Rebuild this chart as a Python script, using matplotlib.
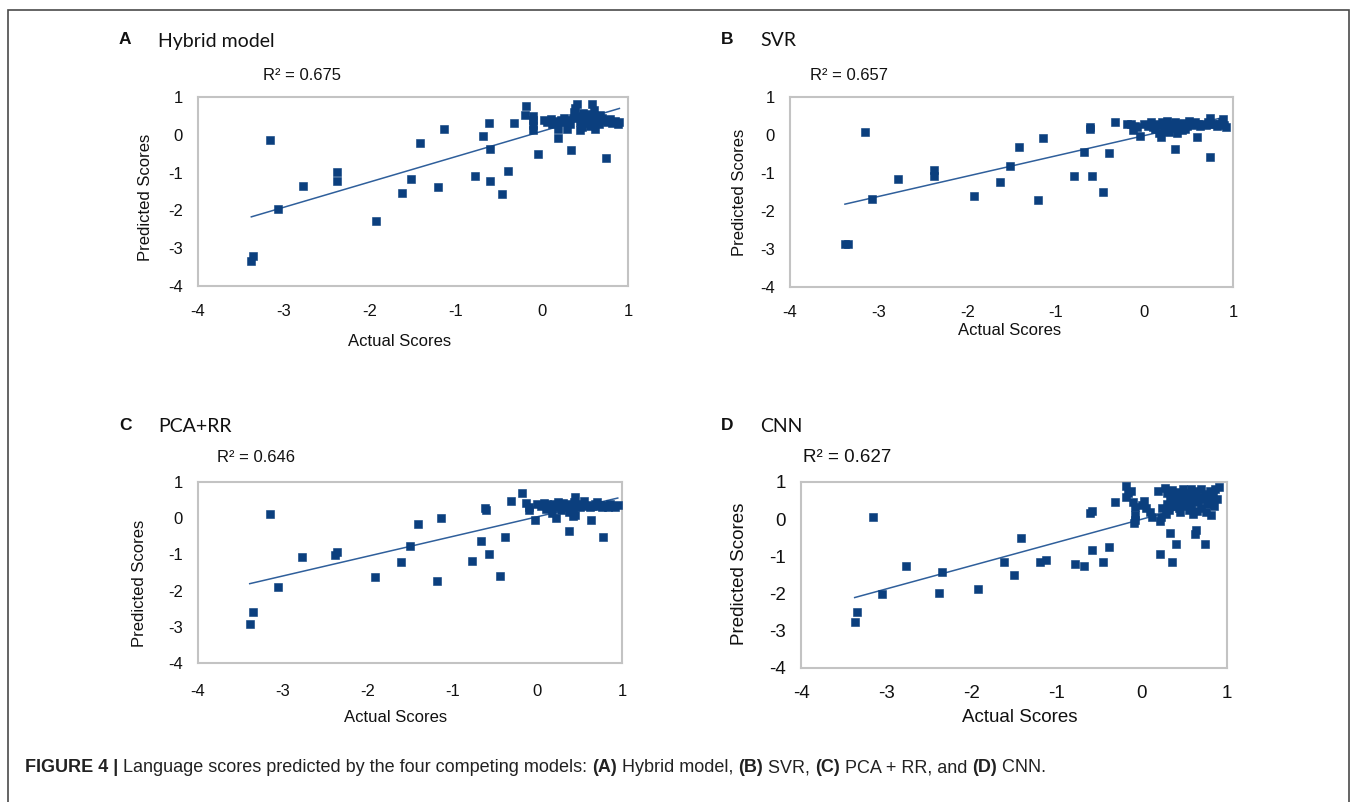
import matplotlib
matplotlib.use('Agg')
import matplotlib.pyplot as plt
from matplotlib.patches import Rectangle
import numpy as np

plt.rcParams['axes.unicode_minus'] = False
plt.rcParams['font.family'] = ['Liberation Sans', 'DejaVu Sans']

# ---------------- data ----------------
ticks = [-4, -3, -2, -1, 0, 1]
tick_labels = ['-4', '-3', '-2', '-1', '0', '1']

panel_letters = ['A', 'B', 'C', 'D']
panel_names = ['Hybrid model', 'SVR', 'PCA+RR', 'CNN']
r2_texts = ['R² = 0.675', 'R² = 0.657', 'R² = 0.646', 'R² = 0.627']
xlabel = 'Actual Scores'
ylabel = 'Predicted Scores'

# trend lines (slope, intercept)
trend_slope = [0.67, 0.534, 0.545, 0.625]
trend_icpt = [0.094, -0.015, 0.039, 0.0]

xa = [-3.38, -3.36, -3.16, -3.07, -2.78, -2.38, -2.38, -1.93, -1.63, -1.52, -1.42, -1.21,
      -1.14, -0.78, -0.69, -0.62, -0.61, -0.60, -0.47, -0.40, -0.33, -0.19, -0.20, -0.10,
      -0.10, -0.10, -0.10, -0.05, 0.19, 0.19, 0.34, 0.74,
      0.02, 0.06, 0.10, 0.14, 0.18, 0.22, 0.26, 0.30, 0.33, 0.36, 0.37, 0.38, 0.41, 0.40,
      0.44, 0.44, 0.29, 0.47, 0.50, 0.52, 0.54, 0.56, 0.58, 0.60, 0.62, 0.62, 0.64, 0.67,
      0.70, 0.73, 0.76, 0.79, 0.81, 0.85, 0.88, 0.90, 0.48, 0.55, 0.25, 0.12, 0.46, 0.66,
      0.58]
ya = [-3.33, -3.20, -0.13, -1.95, -1.35, -0.98, -1.23, -2.29, -1.55, -1.17, -0.21, -1.38,
      0.15, -1.08, -0.03, 0.30, -0.37, -1.22, -1.57, -0.96, 0.30, 0.76, 0.53, 0.50,
      0.38, 0.26, 0.14, -0.50, -0.09, 0.15, -0.39, -0.61,
      0.40, 0.35, 0.42, 0.36, 0.30, 0.38, 0.33, 0.40, 0.28, 0.45, 0.60, 0.72, 0.82, 0.50,
      0.35, 0.13, 0.16, 0.42, 0.30, 0.47, 0.38, 0.22, 0.82, 0.65, 0.50, 0.16, 0.40, 0.53,
      0.45, 0.38, 0.34, 0.42, 0.30, 0.36, 0.29, 0.35, 0.58, 0.55, 0.45, 0.28, 0.20, 0.28,
      0.30]

xb = [-3.38, -3.35, -3.15, -3.07, -2.78, -2.38, -2.38, -1.92, -1.63, -1.52, -1.42, -1.20,
      -1.14, -0.79, -0.68, -0.61, -0.61, -0.59, -0.47, -0.40, -0.33, -0.20, -0.15, -0.11,
      -0.08, -0.13, -0.05, 0.19, 0.35, 0.59, 0.74,
      0.00, 0.04, 0.08, 0.10, 0.12, 0.15, 0.18, 0.20, 0.22, 0.24, 0.27, 0.30, 0.32, 0.35,
      0.37, 0.38, 0.41, 0.44, 0.46, 0.48, 0.51, 0.54, 0.57, 0.60, 0.63, 0.66, 0.69, 0.72,
      0.74, 0.76, 0.79, 0.82, 0.85, 0.88, 0.90, 0.92, 0.89, 0.28, 0.42, 0.16, 0.50, 0.25]
yb = [-2.88, -2.88, 0.09, -1.68, -1.16, -0.92, -1.07, -1.61, -1.23, -0.82, -0.32, -1.71,
      -0.07, -1.08, -0.44, 0.22, 0.17, -1.07, -1.51, -0.48, 0.35, 0.30, 0.28, 0.25,
      0.20, 0.13, -0.03, -0.04, -0.36, -0.04, -0.59,
      0.30, 0.25, 0.33, 0.22, 0.15, 0.30, 0.26, 0.35, 0.10, 0.22, 0.30, 0.18, 0.27, 0.33,
      0.06, 0.22, 0.28, 0.32, 0.15, 0.24, 0.30, 0.27, 0.33, 0.28, 0.25, 0.30, 0.27, 0.33,
      0.45, 0.28, 0.30, 0.25, 0.30, 0.33, 0.27, 0.22, 0.42, 0.08, 0.12, 0.05, 0.37, 0.37]

xc = [-3.39, -3.35, -3.15, -3.06, -2.77, -2.36, -2.38, -1.91, -1.61, -1.50, -1.40, -1.18,
      -1.13, -0.77, -0.66, -0.62, -0.60, -0.57, -0.44, -0.38, -0.31, -0.18, -0.13, -0.10,
      -0.10, -0.03, 0.22, 0.38, 0.42, 0.63, 0.78,
      0.00, 0.04, 0.08, 0.10, 0.12, 0.16, 0.18, 0.20, 0.23, 0.26, 0.28, 0.30, 0.33, 0.36,
      0.38, 0.40, 0.43, 0.45, 0.45, 0.47, 0.50, 0.53, 0.56, 0.59, 0.62, 0.65, 0.68, 0.71,
      0.74, 0.77, 0.80, 0.83, 0.86, 0.89, 0.92, 0.95, 0.42, 0.25, 0.55, 0.70]
yc = [-2.91, -2.60, 0.11, -1.89, -1.07, -0.94, -1.03, -1.63, -1.22, -0.77, -0.16, -1.73,
      0.00, -1.19, -0.64, 0.27, 0.23, -0.98, -1.60, -0.53, 0.48, 0.70, 0.42, 0.32,
      0.22, -0.05, 0.00, -0.36, 0.07, -0.06, -0.52,
      0.40, 0.35, 0.42, 0.25, 0.38, 0.33, 0.15, 0.40, 0.30, 0.36, 0.22, 0.42, 0.30, 0.38,
      0.18, 0.33, 0.45, 0.59, 0.09, 0.36, 0.30, 0.40, 0.33, 0.37, 0.30, 0.35, 0.40, 0.33,
      0.37, 0.30, 0.36, 0.32, 0.38, 0.34, 0.30, 0.36, 0.25, 0.46, 0.47, 0.45]

xd = [-3.37, -3.34, -3.16, -3.05, -2.77, -2.38, -2.35, -1.92, -1.62, -1.50, -1.42, -1.19,
      -1.13, -0.78, -0.68, -0.61, -0.58, -0.58, -0.46, -0.38, -0.32, -0.18, -0.19, -0.13,
      -0.16, -0.10, -0.08, -0.08, -0.08, -0.09, 0.02, 0.19, 0.12, 0.21, 0.21, 0.33,
      0.35, 0.40, 0.62, 0.64, 0.74, 0.81, 0.91, 0.05, 0.10, 0.00, 0.24, 0.28, 0.22, 0.30,
      0.27, 0.30, 0.33, 0.36, 0.38, 0.40, 0.42, 0.44, 0.46, 0.48, 0.50, 0.52, 0.54, 0.56,
      0.58, 0.60, 0.62, 0.64, 0.66, 0.68, 0.70, 0.72, 0.74, 0.76, 0.78, 0.80, 0.82, 0.84,
      0.86, 0.88, 0.35, 0.45, 0.55, 0.65, 0.75, 0.42, 0.58, 0.70, 0.32, 0.50, 0.85, 0.60]
yd = [-2.76, -2.49, 0.05, -2.02, -1.25, -1.98, -1.41, -1.88, -1.16, -1.50, -0.51, -1.14,
      -1.10, -1.20, -1.25, 0.17, 0.22, -0.84, -1.15, -0.74, 0.46, 0.88, 0.59, 0.75,
      0.70, 0.45, 0.32, 0.11, -0.02, -0.10, 0.48, 0.77, 0.07, -0.04, -0.94, -0.38,
      -1.14, -0.67, -0.40, -0.30, -0.67, 0.10, 0.86, 0.30, 0.20, 0.38, 0.30, 0.15, 0.05, 0.40,
      0.85, 0.70, 0.55, 0.78, 0.62, 0.45, 0.72, 0.30, 0.58, 0.80, 0.65, 0.42, 0.55, 0.70,
      0.35, 0.62, 0.50, 0.75, 0.45, 0.60, 0.30, 0.55, 0.68, 0.40, 0.58, 0.75, 0.48, 0.62,
      0.80, 0.55, 0.35, 0.20, 0.25, 0.22, 0.20, 0.52, 0.82, 0.80, 0.25, 0.35, 0.35, 0.15]

series_x = [xa, xb, xc, xd]
series_y = [ya, yb, yc, yd]

# ---------------- layout (pixels) ----------------
W, H = 1357, 802
fig = plt.figure(figsize=(W / 100, H / 100), dpi=100)
fig.patch.set_facecolor('white')

def px(x, y):
    return x / W, 1 - y / H

fig.add_artist(Rectangle(px(8, 812), (1349 - 8) / W, (812 - 10) / H,
                         transform=fig.transFigure, fill=False,
                         edgecolor='#4a4a4a', linewidth=1.2))

boxes = [(198, 97, 628, 286), (790, 97, 1233, 287),
         (198, 482, 622, 663), (801, 482, 1227, 668)]
title_pos = [(125, 40), (727, 40), (125, 425), (727, 425)]
r2_pos = [(263, 75), (810, 75), (217, 458), (803, 458)]
ylab_pos = [(145, 197), (740, 192), (140, 583), (740, 574)]
xlab_pos = [(400, 342), (1010, 330), (396, 718), (1020, 718)]
font_sz = [12, 12, 12, 13.5]
xpad = [13, 13, 15, 12]

MARK = '#0B3F7E'
LINE = '#2F5F9B'

for i in range(4):
    x0, y0, x1, y1 = boxes[i]
    ax = fig.add_axes([x0 / W, 1 - y1 / H, (x1 - x0) / W, (y1 - y0) / H])
    xs = np.asarray(series_x[i], dtype=float)
    ys = np.asarray(series_y[i], dtype=float)
    ax.plot(xs, ys, linestyle='none', marker='s', ms=5.4, color=MARK,
            mec=MARK, mew=0.4, zorder=3, clip_on=False)
    lx = np.array([xs.min(), xs.max()])
    ax.plot(lx, trend_slope[i] * lx + trend_icpt[i], color=LINE, lw=1.1, zorder=2)
    ax.set_xlim(-4, 1)
    ax.set_ylim(-4, 1)
    ax.set_xticks(ticks)
    ax.set_xticklabels(tick_labels)
    ax.set_yticks(ticks)
    ax.set_yticklabels(tick_labels)
    fs = font_sz[i]
    ax.tick_params(axis='both', length=0, labelsize=fs, colors='#111111')
    ax.tick_params(axis='y', pad=11)
    ax.tick_params(axis='x', pad=xpad[i])
    for s in ax.spines.values():
        s.set_color('#c3c3c3')
        s.set_linewidth(1.5)
    ax.set_xlabel(xlabel, fontsize=fs, color='#111111')
    ax.set_ylabel(ylabel, fontsize=fs, color='#111111')
    lxp, lyp = xlab_pos[i]
    ax.xaxis.set_label_coords((lxp - x0) / (x1 - x0), (y1 - lyp) / (y1 - y0))
    ax.xaxis.label.set_va('center')
    lxp, lyp = ylab_pos[i]
    ax.yaxis.set_label_coords((lxp - x0) / (x1 - x0), (y1 - lyp) / (y1 - y0))
    ax.yaxis.label.set_va('center')

    tx, ty = title_pos[i]
    fig.text(*px(tx - 6, ty), panel_letters[i], fontsize=12.5, fontweight='bold',
             ha='left', va='center', color='#111111')
    fig.text(*px(tx + 33, ty + 1), panel_names[i], fontsize=14, family=['Lato', 'DejaVu Sans'],
             ha='left', va='center', color='#111111')
    rx, ry = r2_pos[i]
    fig.text(*px(rx, ry), r2_texts[i], fontsize=fs, ha='left', va='center', color='#111111')

# caption
segs = [('FIGURE 4 | ', True),
        ('Language scores predicted by the four competing models: ', False),
        ('(A)', True), (' Hybrid model, ', False), ('(B)', True), (' SVR, ', False),
        ('(C)', True), (' PCA + RR, and ', False), ('(D)', True), (' CNN.', False)]
r = fig.canvas.get_renderer()
cx = 25
for txt, bold in segs:
    t = fig.text(*px(cx, 768), txt, fontsize=13, fontweight='bold' if bold else 'normal',
                 ha='left', va='center', color='#222222', family=['Liberation Sans'])
    bb = t.get_window_extent(renderer=r)
    cx += bb.width

fig.savefig('out.png', dpi=100, facecolor='white')
